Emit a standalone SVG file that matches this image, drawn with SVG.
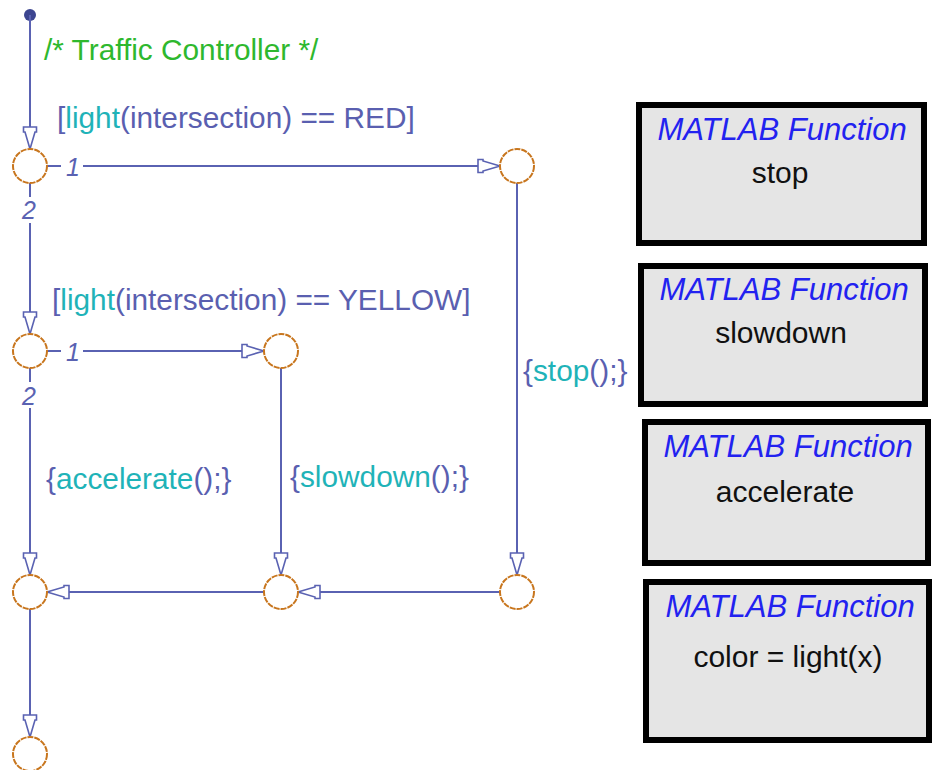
<svg xmlns="http://www.w3.org/2000/svg" width="935" height="770" viewBox="0 0 935 770">
<style>
  .ln { stroke: #5a62b2; stroke-width: 2; fill: none; }
  .jn { stroke: #c8761e; stroke-width: 2; fill: #ffffff; stroke-dasharray: 6 1; }
  .lbl { font-family: "Liberation Sans", Arial, sans-serif; font-size: 29.8px; fill: #5a5fb0; }
  .fn { fill: #1fb3b8; }
  .cm { font-family: "Liberation Sans", Arial, sans-serif; font-size: 29.8px; fill: #2eb82e; }
  .num { font-family: "Liberation Sans", Arial, sans-serif; font-size: 25px; font-style: italic; fill: #5a62b2; text-anchor: middle; }
  .box { fill: #e5e5e5; stroke: #000000; stroke-width: 6; }
  .bt { font-family: "Liberation Sans", Arial, sans-serif; font-size: 31px; font-style: italic; fill: #2222f0; text-anchor: middle; }
  .bb { font-family: "Liberation Sans", Arial, sans-serif; font-size: 30px; fill: #111111; text-anchor: middle; }
</style>
<defs>
  <marker id="arr" markerUnits="userSpaceOnUse" markerWidth="26" markerHeight="18" viewBox="-24 -9 26 18" refX="0" refY="0" orient="auto">
    <path d="M0,0 L-17,-5 L-17,-6.5 L-22,-6.5 L-22,6.5 L-17,6.5 L-17,5 Z" fill="#ffffff" stroke="#5a62b2" stroke-width="1.6" stroke-linejoin="miter"/>
  </marker>
</defs>
<rect width="935" height="770" fill="#ffffff"/>

<g id="connectors">
  <circle cx="30" cy="15" r="6" fill="#3c4590"/>
  <path class="ln" d="M30,15 V149" marker-end="url(#arr)"/>
  <path class="ln" d="M47,166 H61"/>
  <path class="ln" d="M83,166 H500" marker-end="url(#arr)"/>
  <path class="ln" d="M30,183 V197"/>
  <path class="ln" d="M30,223 V334" marker-end="url(#arr)"/>
  <path class="ln" d="M47,351 H61"/>
  <path class="ln" d="M83,351 H264" marker-end="url(#arr)"/>
  <path class="ln" d="M30,368 V382"/>
  <path class="ln" d="M30,408 V575" marker-end="url(#arr)"/>
  <path class="ln" d="M281,368 V575" marker-end="url(#arr)"/>
  <path class="ln" d="M517,183 V575" marker-end="url(#arr)"/>
  <path class="ln" d="M500,592 H298" marker-end="url(#arr)"/>
  <path class="ln" d="M264,592 H47" marker-end="url(#arr)"/>
  <path class="ln" d="M30,609 V737" marker-end="url(#arr)"/>
  <text class="num" x="73" y="176">1</text>
  <text class="num" x="29" y="219">2</text>
  <text class="num" x="73" y="361">1</text>
  <text class="num" x="29" y="405">2</text>
  <text class="cm" x="44" y="60">/* Traffic Controller */</text>
  <text class="lbl" x="57" y="128">[<tspan class="fn">light</tspan>(intersection) == RED]</text>
  <text class="lbl" x="52" y="310">[<tspan class="fn">light</tspan>(intersection) == YELLOW]</text>
  <text class="lbl" x="523" y="381">{<tspan class="fn">stop</tspan>();}</text>
  <text class="lbl" x="46" y="489">{<tspan class="fn">accelerate</tspan>();}</text>
  <text class="lbl" x="290" y="487">{<tspan class="fn">slowdown</tspan>();}</text>
</g>

<g id="junction-a"><circle class="jn" cx="30" cy="166" r="17"/></g>
<g id="junction-b"><circle class="jn" cx="517" cy="166" r="17"/></g>
<g id="junction-c"><circle class="jn" cx="30" cy="351" r="17"/></g>
<g id="junction-d"><circle class="jn" cx="281" cy="351" r="17"/></g>
<g id="junction-e"><circle class="jn" cx="30" cy="592" r="17"/></g>
<g id="junction-f"><circle class="jn" cx="281" cy="592" r="17"/></g>
<g id="junction-g"><circle class="jn" cx="517" cy="592" r="17"/></g>
<g id="junction-h"><circle class="jn" cx="30" cy="754" r="17"/></g>

<g id="fn-stop">
  <rect class="box" x="639" y="105" width="285" height="138"/>
  <text class="bt" x="782" y="140">MATLAB Function</text>
  <text class="bb" x="780" y="183">stop</text>
</g>
<g id="fn-slowdown">
  <rect class="box" x="641" y="266" width="284" height="138"/>
  <text class="bt" x="784" y="300">MATLAB Function</text>
  <text class="bb" x="781" y="343">slowdown</text>
</g>
<g id="fn-accelerate">
  <rect class="box" x="645" y="422" width="283" height="141"/>
  <text class="bt" x="788" y="457">MATLAB Function</text>
  <text class="bb" x="785" y="502">accelerate</text>
</g>
<g id="fn-light">
  <rect class="box" x="646" y="582" width="283" height="158"/>
  <text class="bt" x="790" y="617">MATLAB Function</text>
  <text class="bb" x="788" y="667">color = light(x)</text>
</g>
</svg>
